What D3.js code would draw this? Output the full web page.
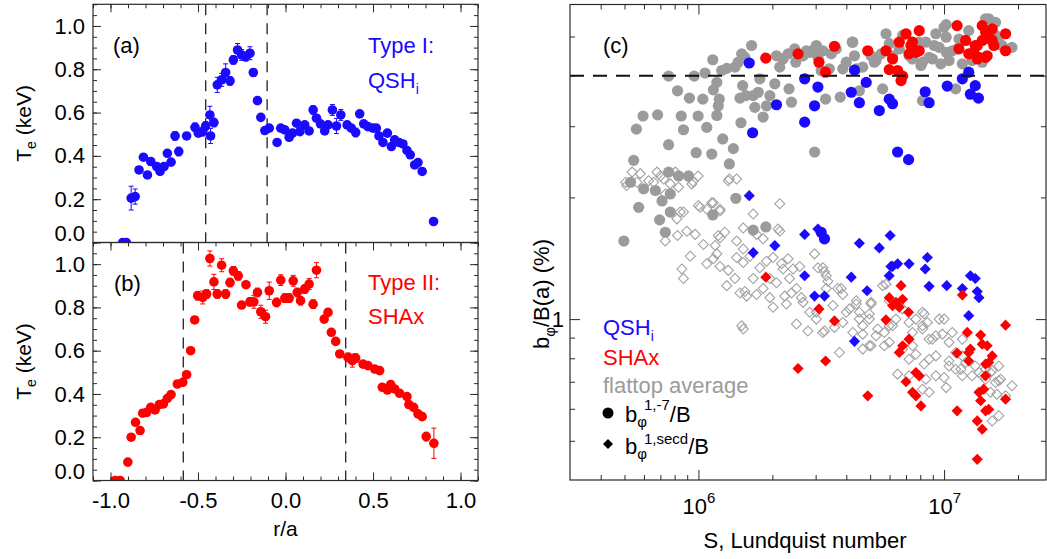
<!DOCTYPE html>
<html>
<head>
<meta charset="utf-8">
<script src="https://cdn.jsdelivr.net/npm/d3@7"></script>
<style>
  body { margin: 0; background: #fff; }
  svg { display: block; }
  svg text { font-family: "Liberation Sans", Arial, Helvetica, sans-serif; }
</style>
</head>
<body>
<svg id="chart" width="1047" height="559"></svg>
<script>
// ---------- panel (a): Type I, QSHi ----------
const qshR = [-0.93,-0.91,-0.882,-0.859,-0.837,-0.812,-0.789,-0.77,-0.736,-0.717,
  -0.694,-0.675,-0.654,-0.631,-0.61,-0.565,-0.517,-0.498,-0.473,-0.456,
  -0.432,-0.428,-0.409,-0.39,-0.365,-0.342,-0.317,-0.298,-0.274,-0.251,
  -0.226,-0.203,-0.184,-0.16,-0.141,-0.118,-0.093,-0.048,-0.027,-0.004,
  0.021,0.04,0.063,0.082,0.11,0.135,0.158,0.177,0.2,0.224,
  0.243,0.268,0.291,0.316,0.352,0.376,0.401,0.424,0.447,0.471,
  0.5,0.519,0.534,0.557,0.582,0.605,0.624,0.648,0.671,0.694,
  0.713,0.738,0.757,0.781,0.846];
const qshTe = [0,0,0.205,0.212,0.335,0.394,0.312,0.374,0.351,0.328,
  0.351,0.412,0.371,0.492,0.42,0.492,0.532,0.505,0.512,0.538,
  0.589,0.492,0.554,0.728,0.751,0.785,0.746,0.843,0.889,0.866,
  0.858,0.874,0.785,0.655,0.578,0.517,0.528,0.462,0.528,0.52,
  0.486,0.505,0.551,0.512,0.543,0.515,0.612,0.574,0.548,0.515,
  0.543,0.612,0.538,0.589,0.543,0.528,0.508,0.594,0.548,0.535,
  0.528,0.528,0.492,0.462,0.505,0.443,0.474,0.462,0.455,0.425,
  0.405,0.358,0.369,0.328,0.097];
const qshErr = [0.01,0.01,0.055,0.035,0.015,0.015,0.01,0.015,0.015,0.01,
  0.01,0.015,0.01,0.02,0.02,0.015,0.02,0.015,0.02,0.02,
  0.04,0.035,0.02,0.035,0.03,0.04,0.02,0.02,0.03,0.025,
  0.02,0.03,0.015,0.015,0.01,0.01,0.01,0.01,0.01,0.01,
  0.01,0.01,0.015,0.01,0.015,0.01,0.02,0.015,0.01,0.01,
  0.015,0.025,0.035,0.025,0.015,0.015,0.02,0.01,0.01,0.01,
  0.01,0.01,0.01,0.01,0.015,0.01,0.01,0.015,0.01,0.01,
  0.01,0.015,0.01,0.01,0.01];
const qshBounds = [-0.456, -0.105];

// ---------- panel (b): Type II, SHAx ----------
const shaxR = [-0.973,-0.945,-0.901,-0.882,-0.857,-0.831,-0.816,-0.793,-0.77,-0.745,
  -0.721,-0.698,-0.675,-0.654,-0.618,-0.587,-0.565,-0.542,-0.519,-0.502,
  -0.473,-0.451,-0.432,-0.409,-0.39,-0.365,-0.342,-0.317,-0.298,-0.27,
  -0.251,-0.226,-0.203,-0.181,-0.16,-0.141,-0.114,-0.093,-0.051,-0.027,
  -0.004,0.021,0.044,0.067,0.086,0.11,0.135,0.158,0.177,0.221,
  0.243,0.262,0.287,0.31,0.357,0.382,0.401,0.443,0.471,0.51,
  0.538,0.553,0.582,0.601,0.624,0.652,0.694,0.705,0.732,0.757,
  0.781,0.804,0.848];
const shaxTe = [0,0,0.085,0.2,0.269,0.231,0.311,0.315,0.338,0.326,
  0.351,0.354,0.38,0.397,0.446,0.454,0.489,0.6,0.742,0.854,
  0.846,0.862,1.026,0.918,0.862,0.995,0.862,0.915,0.969,0.946,
  0.811,0.905,0.826,0.826,0.869,0.78,0.757,0.877,0.823,0.926,
  0.843,0.843,0.923,0.869,0.831,0.885,0.908,0.815,0.972,0.746,
  0.777,0.685,0.643,0.585,0.569,0.554,0.566,0.538,0.531,0.515,
  0.508,0.431,0.418,0.443,0.423,0.403,0.388,0.351,0.338,0.308,
  0.295,0.203,0.172];
const shaxErr = [0.01,0.01,0.01,0.01,0.015,0.01,0.01,0.01,0.01,0.01,
  0.01,0.01,0.01,0.01,0.01,0.01,0.015,0.01,0.015,0.02,
  0.03,0.02,0.035,0.035,0.02,0.03,0.02,0.02,0.02,0.02,
  0.015,0.015,0.02,0.03,0.02,0.03,0.03,0.04,0.02,0.025,
  0.02,0.02,0.025,0.02,0.02,0.02,0.025,0.02,0.035,0.015,
  0.015,0.015,0.015,0.01,0.02,0.03,0.02,0.01,0.01,0.01,
  0.01,0.01,0.01,0.015,0.01,0.01,0.01,0.01,0.01,0.01,
  0.01,0.02,0.07];
const shaxBounds = [-0.584, 0.344];

const teTicks = [0, 0.2, 0.4, 0.6, 0.8, 1.0];
const rTicks = [-1.0, -0.5, 0.0, 0.5, 1.0];

// ---------- panel (c): [S in units of 1e6, b_phi/B(a) in %] ----------
const flattopCircles = [[0.559,2.95],[0.595,3.18],[0.682,3.20],[0.756,3.99],[0.756,2.70],[0.822,3.67],[0.851,3.18],[0.869,2.94],[0.919,3.52],[0.979,2.58],
  [0.961,3.99],[0.997,3.18],[1.042,3.50],[1.081,2.98],[1.064,4.06],[1.144,4.38],[1.133,2.56],[1.15,3.69],[1.188,3.85],[1.216,3.50],
  [1.205,3.37],[1.188,3.19],[1.256,2.79],[1.244,4.12],[1.304,4.17],[1.336,2.42],[1.387,2.64],[1.409,4.20],[1.452,4.32],[1.49,3.06],
  [1.514,3.78],[1.50,4.53],[1.546,4.44],[1.476,3.52],[1.561,3.57],[1.646,4.75],[1.671,3.57],[1.697,3.34],[1.751,3.64],[1.778,3.93],
  [1.834,3.16],[1.893,3.37],[1.953,3.57],[2.046,3.82],[2.078,4.48],[2.143,4.20],[2.211,4.40],[2.317,4.53],[2.338,3.71],[2.391,3.44],
  [2.466,4.66],[2.49,4.32],[2.666,4.48],[2.751,4.61],[2.838,4.57],[2.972,2.59],[3.02,4.75],[3.065,4.44],[3.16,4.12],[3.212,4.61],
  [3.293,3.50],[3.473,4.53],[3.639,4.66],[3.778,3.54],[3.996,4.32],[4.226,4.84],[4.318,4.48],[4.41,4.16],[4.667,4.20],[5.045,4.48],
  [5.285,4.36],[5.539,4.53],[5.623,3.71],[5.803,5.08],[5.984,4.80],[6.17,4.48],[6.57,4.66],[6.78,5.03],[7.44,4.40],[8.05,4.24],
  [8.17,3.47],[8.43,4.84],[8.69,4.44],[9.11,4.75],[9.26,5.08],[9.55,4.70],[10.0,5.27],[10.2,4.98],[10.48,4.36],[10.8,4.61],
  [11.15,3.71],[11.5,4.93],[12.6,5.17],[13.0,4.36],[14.76,5.53],[16.2,5.42],[16.2,5.03],[17.2,4.75],[18.9,4.70],[0.545,2.47],
  [0.529,2.18],[0.598,2.10],[0.668,2.08],[0.756,2.31],[0.830,2.26],[0.911,2.26],[0.768,2.04],[1.42,1.99],[0.571,1.89],[0.711,1.96],
  [0.768,1.84],[0.695,1.76],[0.733,1.64],[0.497,1.56],[1.144,1.81],[1.671,1.66],[1.881,1.69],[10.2,5.35],[8.97,4.40],[8.17,4.32],
  [11.87,4.28],[15.2,5.53],[4.25,4.84],[4.52,3.67],[2.97,4.66],[3.41,4.16],[3.87,4.16],[5.2,4.32],[7.21,4.48],[7.92,4.84],
  [11.3,4.66],[9.7,4.28],[10.2,4.57],[14.3,4.32],[16.7,4.84]];
const flattopDiamonds = [[0.505,2.18],[0.537,2.31],[0.58,2.29],[0.627,2.20],[0.678,2.31],[0.70,2.26],[0.722,2.22],[0.805,2.31],[0.94,2.16],[0.997,2.26],
  [1.336,2.22],[1.43,2.22],[0.51,2.14],[0.657,2.18],[0.768,2.16],[0.83,2.12],[0.95,2.19],[0.733,2.04],[1.016,1.89],[1.081,1.87],
  [1.15,1.94],[1.224,1.87],[0.843,1.84],[0.818,1.77],[2.143,1.93],[1.671,1.82],[0.733,1.56],[0.822,1.61],[0.897,1.65],[0.97,1.62],
  [1.224,1.59],[1.28,1.64],[1.43,1.56],[1.522,1.49],[1.724,1.62],[1.834,1.58],[2.143,1.65],[0.926,1.43],[0.856,1.33],[0.869,1.26],
  [1.081,1.37],[1.15,1.41],[1.188,1.45],[1.224,1.35],[1.323,1.32],[1.43,1.42],[1.522,1.38],[1.62,1.43],[1.778,1.34],[1.893,1.39],
  [2.014,1.42],[2.18,1.37],[2.317,1.41],[2.43,1.33],[2.584,1.35],[1.304,1.21],[1.409,1.26],[1.476,1.16],[1.571,1.14],[1.671,1.26],
  [1.834,1.19],[1.953,1.13],[2.078,1.23],[2.246,1.14],[2.391,1.16],[2.625,1.13],[2.014,1.07],[2.28,1.09],[1.522,0.945],[2.506,0.972],
  [2.79,0.935],[2.11,1.67],[2.97,1.45],[3.21,1.34],[3.315,1.28],[3.315,1.19],[3.81,1.19],[3.87,1.15],[3.53,1.08],[3.21,0.927],
  [4.39,1.09],[4.52,1.04],[5.045,1.09],[4.96,1.0],[5.623,1.21],[5.98,1.11],[6.37,1.0],[6.78,1.06],[8.17,1.04],[8.17,0.963],
  [7.44,0.927],[9.55,1.0],[10.8,0.927],[8.97,0.892],[5.045,0.859],[4.667,0.843],[5.71,0.859],[6.78,0.843],[7.44,0.859],[8.69,0.796],
  [10.48,0.788],[11.87,0.811],[11.15,0.752],[13.4,0.766],[14.3,0.724],[15.7,0.745],[16.7,0.766],[3.065,1.34],[3.26,1.31],[3.365,1.24],
  [3.69,1.19],[3.02,1.0],[3.26,0.935],[3.58,0.954],[3.87,0.981],[4.12,1.06],[4.52,1.0],[4.39,1.11],[5.045,1.10],[4.96,1.03],
  [5.80,1.22],[6.17,0.963],[5.71,0.927],[5.285,0.91],[5.98,0.876],[4.96,0.859],[4.667,0.918],[3.75,0.827],[7.2,0.981],[7.68,1.0],
  [8.3,1.03],[8.55,0.981],[8.17,0.945],[8.69,0.892],[9.26,0.91],[10,1.0],[9.84,0.918],[10.48,0.876],[11.15,0.827],[11.87,0.892],
  [9.26,0.811],[8.3,0.774],[7.68,0.819],[7.2,0.796],[10.48,0.766],[10,0.717],[9.26,0.724],[8.43,0.71],[10.2,0.677],[8.69,0.659],
  [6.47,0.731],[11.7,0.752],[12.24,0.781],[13.0,0.724],[13.87,0.738],[14.76,0.71],[15.45,0.738],[16.2,0.697],[16.98,0.71],[18.9,0.684],
  [15.45,0.659],[16.4,0.652],[15.7,0.56],[17.8,0.646],[14.76,0.752],[11.87,0.724],[16.7,0.577],[16.7,0.704],[8.17,0.671],[7.2,0.724],
  [0.562,2.18],[1.323,2.20],[0.869,1.84],[1.0,1.91],[1.133,1.94],[1.224,1.85],[1.205,1.61],[1.17,1.52],[1.048,1.53],[1.522,1.68],
  [1.546,1.17],[1.724,1.15],[1.50,0.963],[1.953,1.26],[2.211,1.33],[2.35,1.26],[2.506,1.19],[2.666,1.10],[2.838,1.04],[3.02,1.04],
  [4.0,1.04],[4.667,0.963],[4.25,0.927],[5.37,0.945],[5.98,0.963]];
const qshCircles = [[1.61,4.30],[2.078,3.39],[1.662,2.89],[2.707,3.93],[3.065,3.75],[2.97,3.37],[2.707,3.07],[4.318,4.13],[4.82,3.85],[4.19,3.64],
  [4.52,3.43],[5.45,3.28],[5.98,3.50],[6.17,3.41],[6.47,2.59],[7.17,2.48],[8.38,3.65],[8.69,3.43],[10.3,3.77],[11.87,3.93],
  [12.6,4.08],[12.8,3.60],[13.4,3.78],[13.8,3.52],[3.26,1.58],[3.16,1.64]];
const shaxCircles = [[1.88,4.42],[2.544,4.53],[3.095,4.32],[3.293,4.08],[3.58,4.73],[4.89,4.61],[5.80,4.61],[6.17,4.40],[5.98,4.14],[6.47,4.12],
  [6.78,3.99],[6.68,3.89],[6.57,4.84],[7.0,5.08],[7.33,4.75],[7.2,4.53],[7.92,5.17],[7.92,4.61],[11.3,5.32],[11.5,4.66],
  [12.24,4.89],[12.6,4.53],[13.65,4.75],[14.3,5.32],[14.76,5.13],[15.45,4.93],[15.7,5.22],[14.98,4.48],[15.95,4.75],[17.8,5.08],
  [17.8,4.61],[13.87,4.44],[13.2,4.57],[7.68,4.57],[15.7,4.89],[14.76,4.44],[13.65,4.40],[13.4,4.75],[14.3,4.89],[7.44,4.84]];
const qshDiamonds = [[1.61,2.02],[2.707,1.62],[3.065,1.67],[2.046,1.52],[1.671,1.46],[4.52,1.54],[5.45,1.50],[6.03,1.61],[2.707,1.28],[4.19,1.27],
  [2.97,1.14],[3.26,1.14],[4.86,1.175],[6.08,1.35],[6.47,1.37],[7.2,1.37],[8.55,1.42],[8.38,1.33],[5.98,1.28],[8.69,1.205],
  [10.25,1.21],[11.87,1.19],[12.8,1.28],[13.4,1.26],[13.65,1.17],[13.87,1.13],[12.6,1.02],[4.318,0.881],[6.17,1.35]];
const shaxDiamonds = [[1.881,1.27],[3.095,1.06],[3.58,0.99],[2.544,0.755],[3.293,0.788],[6.68,1.21],[5.98,1.13],[6.37,1.10],[6.57,1.07],[6.78,1.12],
  [7.17,1.04],[5.80,0.996],[11.87,1.147],[17.8,0.966],[12.43,0.927],[14.09,0.913],[7.2,0.892],[6.78,0.859],[6.57,0.827],[11.3,0.824],
  [12.8,0.843],[12.6,0.788],[14.98,0.859],[15.7,0.811],[15.2,0.781],[7.68,0.738],[14.76,0.724],[6.17,1.08],[4.89,0.646],[14.3,0.867],
  [12.6,0.827],[14.76,0.774],[7.92,0.724],[7.0,0.70],[7.44,0.659],[7.68,0.646],[8.05,0.61],[11.3,0.593],[13.65,0.56],[14.3,0.534],
  [14.76,0.593],[15.2,0.598],[17.8,0.634],[13.87,0.659],[14.5,0.671],[14.09,0.628],[13.65,0.45]];
const thresholdB = 4; // dashed reference line, %
const sMajor = [1e6, 1e7];
const sMinor = [4e5,5e5,6e5,7e5,8e5,9e5,2e6,3e6,4e6,5e6,6e6,7e6,8e6,9e6,2e7];
const bMajor = [1];
const bMinor = [0.5,0.6,0.7,0.8,0.9,2,3,4,5];

const blue = "#1a0aff", red = "#ff0000", gray = "#9b9b9b", grayOpen = "#a2a2a2", ink = "#2a2a2a";
const svg = d3.select("#chart");

// helper: text built from tspans (sub/superscripts)
function rich(sel, parts) {
  parts.forEach(p => {
    const t = sel.append("tspan").text(p.t);
    if (p.size) t.attr("font-size", p.size);
    if (p.dx) t.attr("dx", p.dx);
    if (p.dy) t.attr("dy", p.dy);
  });
  return sel;
}
function styleAxis(g, size) {
  g.attr("font-size", size).select(".domain").remove();
  g.selectAll(".tick line").attr("stroke", ink);
}

// ---------- profile panels (a) and (b) ----------
const x = d3.scaleLinear().domain([-1.1, 1.1]).range([93, 478]);
const yA = d3.scaleLinear().domain([0, 1.1]).range([242.5, 4.3]);
const yB = d3.scaleLinear().domain([0, 1.1]).range([480.5, 242.5]);
const fmt = d => d.toFixed(1);

function profilePanel(id, y, r, te, err, color, bounds, showBottom) {
  const [left, right] = x.range();
  const [bottom, top] = y.range();
  const g = svg.append("g");
  svg.append("clipPath").attr("id", id).append("rect")
    .attr("x", left).attr("y", top).attr("width", right - left).attr("height", bottom - top);

  g.selectAll("line.bound").data(bounds).join("line")
    .attr("x1", d => x(d)).attr("x2", d => x(d)).attr("y1", top).attr("y2", bottom)
    .attr("stroke", "#222").attr("stroke-width", 1.3).attr("stroke-dasharray", "11,8");

  const pts = r.map((v, i) => ({ r: v, te: te[i], e: err[i] }));
  const pg = g.append("g").attr("clip-path", `url(#${id})`);
  pg.selectAll("path.err").data(pts).join("path")
    .attr("d", d => {
      const cx = x(d.r), y0 = y(d.te - d.e), y1 = y(d.te + d.e);
      return `M${cx},${y0}V${y1}M${cx - 2.5},${y0}h5M${cx - 2.5},${y1}h5`;
    })
    .attr("stroke", color).attr("stroke-width", 1).attr("fill", "none");
  pg.selectAll("circle").data(pts).join("circle")
    .attr("cx", d => x(d.r)).attr("cy", d => y(d.te)).attr("r", 4.8).attr("fill", color);

  // axes, ticks pointing inward
  g.append("g").attr("transform", `translate(${left},0)`)
    .call(d3.axisLeft(y).tickValues(teTicks).tickSize(-8).tickPadding(8).tickFormat(fmt))
    .call(a => styleAxis(a, 22))
    .call(a => a.selectAll(".tick text").filter(d => d === 0).attr("dy", "-0.08em"));
  g.append("g").attr("transform", `translate(${left},0)`)
    .call(d3.axisLeft(y).ticks(22).tickSize(-4).tickFormat("")).call(a => styleAxis(a, 10));
  g.append("g").attr("transform", `translate(${right},0)`)
    .call(d3.axisRight(y).tickValues(teTicks).tickSize(-8).tickFormat("")).call(a => styleAxis(a, 10));
  g.append("g").attr("transform", `translate(${right},0)`)
    .call(d3.axisRight(y).ticks(22).tickSize(-4).tickFormat("")).call(a => styleAxis(a, 10));
  g.append("g").attr("transform", `translate(0,${top})`)
    .call(d3.axisTop(x).tickValues(rTicks).tickSize(-8).tickFormat("")).call(a => styleAxis(a, 10));
  g.append("g").attr("transform", `translate(0,${top})`)
    .call(d3.axisTop(x).ticks(22).tickSize(-4).tickFormat("")).call(a => styleAxis(a, 10));
  if (showBottom) {
    g.append("g").attr("transform", `translate(0,${bottom})`)
      .call(d3.axisBottom(x).tickValues(rTicks).tickSize(-8).tickPadding(12).tickFormat(fmt))
      .call(a => styleAxis(a, 22));
    g.append("g").attr("transform", `translate(0,${bottom})`)
      .call(d3.axisBottom(x).ticks(22).tickSize(-4).tickFormat("")).call(a => styleAxis(a, 10));
  }
  g.append("rect").attr("x", left).attr("y", top).attr("width", right - left).attr("height", bottom - top)
    .attr("fill", "none").attr("stroke", ink).attr("stroke-width", 1.2);

  // y title
  rich(g.append("text").attr("transform", `translate(31,${(top + bottom) / 2}) rotate(-90)`)
    .attr("text-anchor", "middle").attr("font-size", 21),
    [{ t: "T" }, { t: "e", size: 14, dy: 5 }, { t: " (keV)", size: 21, dy: -5 }]);
  return g;
}

const gA = profilePanel("clipA", yA, qshR, qshTe, qshErr, blue, qshBounds, false);
const gB = profilePanel("clipB", yB, shaxR, shaxTe, shaxErr, red, shaxBounds, true);

gA.append("text").attr("x", 113).attr("y", 53).attr("font-size", 22).text("(a)");
gA.append("text").attr("x", 368).attr("y", 53).attr("font-size", 22).attr("fill", blue).text("Type I:");
rich(gA.append("text").attr("x", 368).attr("y", 88).attr("font-size", 22).attr("fill", blue),
  [{ t: "QSH" }, { t: "i", size: 14, dy: 6 }]);
gB.append("text").attr("x", 114).attr("y", 291).attr("font-size", 22).text("(b)");
gB.append("text").attr("x", 368).attr("y", 290).attr("font-size", 22).attr("fill", red).text("Type II:");
gB.append("text").attr("x", 368).attr("y", 324).attr("font-size", 22).attr("fill", red).text("SHAx");
gB.append("text").attr("x", x(0)).attr("y", 536).attr("text-anchor", "middle").attr("font-size", 21).text("r/a");

// ---------- panel (c) ----------
const xs = d3.scaleLog().domain([3e5, 2.6e7]).range([570, 1046]);
const ys = d3.scaleLog().domain([0.4, 6]).range([480, 4.5]);
const gC = svg.append("g");
const [cl, cr] = xs.range(), [cb, ct] = ys.range();
svg.append("clipPath").attr("id", "clipC").append("rect")
  .attr("x", cl).attr("y", ct).attr("width", cr - cl).attr("height", cb - ct);
const pc = gC.append("g").attr("clip-path", "url(#clipC)");
const px = d => xs(d[0] * 1e6), py = d => ys(d[1]);
const diamond = d3.symbol().type(d3.symbolSquare);

pc.append("g").selectAll("path").data(flattopDiamonds).join("path")
  .attr("d", diamond.size(50)())
  .attr("transform", d => `translate(${px(d)},${py(d)}) rotate(45)`)
  .attr("fill", "none").attr("stroke", grayOpen).attr("stroke-width", 1.1);
pc.append("g").selectAll("circle").data(flattopCircles).join("circle")
  .attr("cx", px).attr("cy", py).attr("r", 5.6).attr("fill", gray);
pc.append("g").selectAll("circle").data(qshCircles).join("circle")
  .attr("cx", px).attr("cy", py).attr("r", 5.6).attr("fill", blue);
pc.append("g").selectAll("circle").data(shaxCircles).join("circle")
  .attr("cx", px).attr("cy", py).attr("r", 5.6).attr("fill", red);
pc.append("g").selectAll("path").data(qshDiamonds).join("path")
  .attr("d", diamond.size(62)())
  .attr("transform", d => `translate(${px(d)},${py(d)}) rotate(45)`).attr("fill", blue);
pc.append("g").selectAll("path").data(shaxDiamonds).join("path")
  .attr("d", diamond.size(62)())
  .attr("transform", d => `translate(${px(d)},${py(d)}) rotate(45)`).attr("fill", red);

gC.append("line").attr("x1", cl).attr("x2", cr).attr("y1", ys(thresholdB)).attr("y2", ys(thresholdB))
  .attr("stroke", "#111").attr("stroke-width", 2).attr("stroke-dasharray", "14,9");

// log axes
gC.append("g").attr("transform", `translate(0,${cb})`)
  .call(d3.axisBottom(xs).tickValues(sMajor).tickSize(-10).tickPadding(14).tickFormat(""))
  .call(a => styleAxis(a, 22))
  .call(a => a.selectAll(".tick text").text("10").attr("dy", "0.9em")
    .append("tspan").attr("font-size", 15).attr("dy", "-0.75em").text(d => Math.round(Math.log10(d))));
gC.append("g").attr("transform", `translate(0,${cb})`)
  .call(d3.axisBottom(xs).tickValues(sMinor).tickSize(-5).tickFormat("")).call(a => styleAxis(a, 10));
gC.append("g").attr("transform", `translate(0,${ct})`)
  .call(d3.axisTop(xs).tickValues(sMajor).tickSize(-10).tickFormat("")).call(a => styleAxis(a, 10));
gC.append("g").attr("transform", `translate(0,${ct})`)
  .call(d3.axisTop(xs).tickValues(sMinor).tickSize(-5).tickFormat("")).call(a => styleAxis(a, 10));
gC.append("g").attr("transform", `translate(${cl},0)`)
  .call(d3.axisLeft(ys).tickValues(bMajor).tickSize(-10).tickPadding(6).tickFormat(d3.format("d")))
  .call(a => styleAxis(a, 22));
gC.append("g").attr("transform", `translate(${cl},0)`)
  .call(d3.axisLeft(ys).tickValues(bMinor).tickSize(-5).tickFormat("")).call(a => styleAxis(a, 10));
gC.append("g").attr("transform", `translate(${cr},0)`)
  .call(d3.axisRight(ys).tickValues(bMajor).tickSize(-10).tickFormat("")).call(a => styleAxis(a, 10));
gC.append("g").attr("transform", `translate(${cr},0)`)
  .call(d3.axisRight(ys).tickValues(bMinor).tickSize(-5).tickFormat("")).call(a => styleAxis(a, 10));
gC.append("rect").attr("x", cl).attr("y", ct).attr("width", cr - cl).attr("height", cb - ct)
  .attr("fill", "none").attr("stroke", ink).attr("stroke-width", 1.2);

gC.append("text").attr("x", 603).attr("y", 53).attr("font-size", 22).text("(c)");
gC.append("text").attr("x", (cl + cr) / 2 - 3).attr("y", 548).attr("text-anchor", "middle")
  .attr("font-size", 22).text("S, Lundquist number");
rich(gC.append("text").attr("transform", `translate(549,294) rotate(-90)`)
  .attr("text-anchor", "middle").attr("font-size", 22),
  [{ t: "b" }, { t: "φ", size: 15, dy: 6 }, { t: "/B(a) (%)", size: 22, dy: -6 }]);

// legend
const lg = gC.append("g");
rich(lg.append("text").attr("x", 603).attr("y", 335).attr("font-size", 22).attr("fill", blue),
  [{ t: "QSH" }, { t: "i", size: 14, dy: 6 }]);
lg.append("text").attr("x", 603).attr("y", 365).attr("font-size", 22).attr("fill", red).text("SHAx");
lg.append("text").attr("x", 603).attr("y", 393).attr("font-size", 22).attr("fill", gray).text("flattop average");
lg.append("circle").attr("cx", 608).attr("cy", 413).attr("r", 5.5).attr("fill", "#000");
lg.append("path").attr("d", diamond.size(50)()).attr("transform", "translate(608,444) rotate(45)").attr("fill", "#000");
rich(lg.append("text").attr("x", 625).attr("y", 422).attr("font-size", 22),
  [{ t: "b" }, { t: "φ", size: 15, dy: 5 }, { t: "1,-7", size: 15, dx: -3, dy: -17 }, { t: "/B", size: 22, dy: 12 }]);
rich(lg.append("text").attr("x", 625).attr("y", 454).attr("font-size", 22),
  [{ t: "b" }, { t: "φ", size: 15, dy: 5 }, { t: "1,secd", size: 15, dx: -3, dy: -15 }, { t: "/B", size: 22, dy: 10 }]);
</script>
</body>
</html>
